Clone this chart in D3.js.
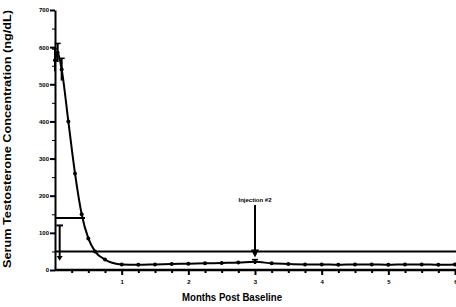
<!DOCTYPE html>
<html><head><meta charset="utf-8">
<script src="https://cdn.jsdelivr.net/npm/d3@7"></script>
<style>body{margin:0;background:#fff}svg{display:block}text{font-family:"Liberation Sans",Arial,sans-serif;font-weight:bold;fill:#000}</style>
</head><body>
<script>
const months = [0,0.04,0.1,0.2,0.3,0.4,0.5,0.6,0.75,1.0,1.25,1.5,1.75,2.0,2.25,2.5,2.75,3.0,3.25,3.5,3.75,4.0,4.25,4.5,4.75,5.0,5.25,5.5,5.75,6.0];
const testosterone = [565,585,540,400,260,150,85,50,28,15,14,15,16,17,18,19,20,22,18,16,15,15,14,15,15,14,15,15,14,15];
const errors = [30,25,30,0,0,0,0,0,0,0,0,0,0,0,0,0,0,6,0,0,0,0,0,0,0,0,0,0,0,0];
const yTicks = [0,100,200,300,400,500,600,700];
const xTicks = [1,2,3,4,5,6];
const castrateLevel = 50;
const annotation = {month:3, label:"Injection #2"};
const bracketLevel = 140;
const bracketEnd = 0.45;

const W=456,H=307;
const svg=d3.select("body").append("svg").attr("width",W).attr("height",H);
const x=d3.scaleLinear().domain([0,6]).range([55,455]);
const y=d3.scaleLinear().domain([0,700]).range([270,10]);

// axes
const ya=svg.append("g").attr("transform","translate(55,0)")
 .call(d3.axisLeft(y).tickValues(yTicks).tickFormat(d3.format("d")).tickSize(5).tickSizeOuter(0));
ya.select(".domain").attr("stroke-width",2);
ya.selectAll(".tick line").attr("stroke-width",2);
ya.selectAll(".tick text").attr("font-size",6).attr("x",-6);
svg.append("g").attr("transform","translate(55,0)")
 .call(d3.axisLeft(y).tickValues(d3.range(50,700,100)).tickSize(3).tickFormat(""))
 .call(g=>g.select(".domain").remove());

const xa=svg.append("g").attr("transform","translate(0,270)")
 .call(d3.axisBottom(x).tickValues(xTicks).tickFormat(d3.format("d")).tickSize(5).tickSizeOuter(0));
xa.select(".domain").attr("stroke-width",2.5).attr("d","M55,0H456");
xa.selectAll(".tick line").attr("stroke-width",2);
xa.selectAll(".tick text").attr("font-size",6).attr("y",10);
xa.selectAll(".tick text").filter(d=>d===6).attr("text-anchor","end").attr("dx",2);
svg.append("g").attr("transform","translate(0,270)")
 .call(d3.axisBottom(x).tickValues(d3.range(0.25,6,0.25).filter(v=>Math.abs(v-Math.round(v))>0.01)).tickSize(3).tickFormat(""))
 .call(g=>g.select(".domain").remove())
 .selectAll("line").attr("stroke-width",2);

// titles
svg.append("text").attr("transform","translate(11,139) rotate(-90)").attr("text-anchor","middle")
 .attr("font-size",10).attr("textLength",258).attr("lengthAdjust","spacingAndGlyphs")
 .text("Serum Testosterone Concentration (ng/dL)");
svg.append("text").attr("x",232).attr("y",301).attr("text-anchor","middle").attr("font-size",10)
 .attr("textLength",100).attr("lengthAdjust","spacingAndGlyphs").text("Months Post Baseline");

// castrate line
svg.append("line").attr("x1",x(0)).attr("x2",W).attr("y1",y(castrateLevel)).attr("y2",y(castrateLevel))
 .attr("stroke","#000").attr("stroke-width",2);
// bracket
svg.append("line").attr("x1",x(0)).attr("x2",x(bracketEnd)).attr("y1",y(bracketLevel)).attr("y2",y(bracketLevel))
 .attr("stroke","#000").attr("stroke-width",2);
svg.append("line").attr("x1",x(0.02)).attr("x2",x(0.12)).attr("y1",y(120)).attr("y2",y(120))
 .attr("stroke","#000").attr("stroke-width",2);
svg.append("line").attr("x1",x(0.07)).attr("x2",x(0.07)).attr("y1",y(120)).attr("y2",y(35))
 .attr("stroke","#000").attr("stroke-width",2);
svg.append("path").attr("d",`M${x(0.07)-3},${y(38)}L${x(0.07)+3},${y(38)}L${x(0.07)},${y(25)}Z`);

// data line
const line=d3.line().x((d,i)=>x(months[i])).y(d=>y(d)).curve(d3.curveMonotoneX);
svg.append("path").datum(testosterone).attr("d",line).attr("fill","none").attr("stroke","#000").attr("stroke-width",2);
// error bars
const eb=svg.append("g");
testosterone.forEach((v,i)=>{ if(errors[i]>0){
 eb.append("line").attr("x1",x(months[i])).attr("x2",x(months[i])).attr("y1",y(v+errors[i])).attr("y2",y(v-errors[i])).attr("stroke","#000").attr("stroke-width",2);
 eb.append("line").attr("x1",x(months[i])-3).attr("x2",x(months[i])+3).attr("y1",y(v+errors[i])).attr("y2",y(v+errors[i])).attr("stroke","#000").attr("stroke-width",1.5);
}});
svg.append("g").selectAll("circle").data(testosterone).join("circle")
 .attr("cx",(d,i)=>x(months[i])).attr("cy",d=>y(d)).attr("r",2);

// annotation
const ax=x(annotation.month);
svg.append("text").attr("x",ax).attr("y",202).attr("text-anchor","middle").attr("font-size",6).text(annotation.label);
svg.append("line").attr("x1",ax).attr("x2",ax).attr("y1",205).attr("y2",y(castrateLevel)+1).attr("stroke","#000").attr("stroke-width",2);
svg.append("path").attr("d",`M${ax-4},${y(castrateLevel)-2}L${ax+4},${y(castrateLevel)-2}L${ax},${y(castrateLevel)+6}Z`);
</script>
</body></html>
